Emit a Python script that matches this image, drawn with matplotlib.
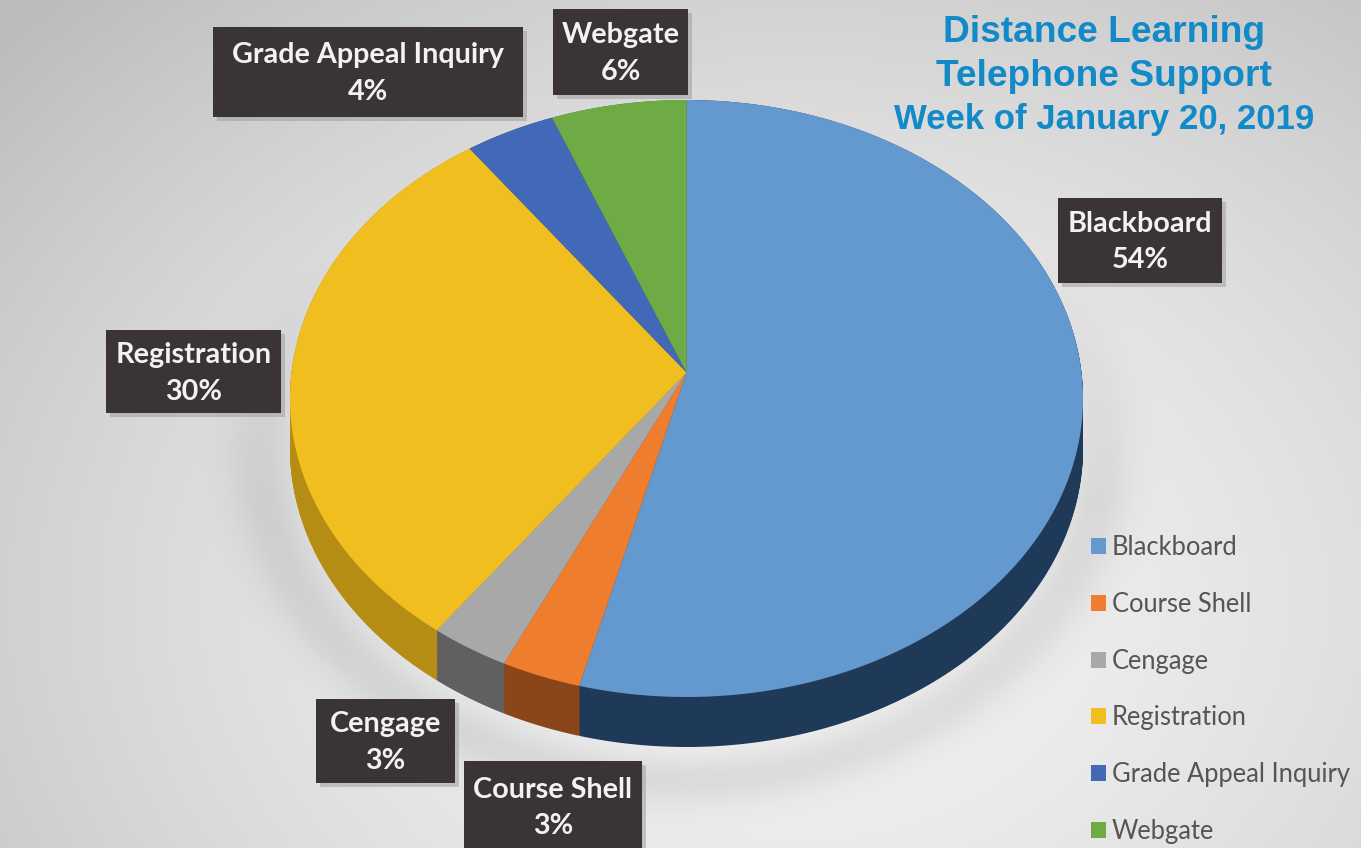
import matplotlib.pyplot as plt
from matplotlib.patches import Rectangle, Polygon
import numpy as np

categories = ['Blackboard', 'Course Shell', 'Cengage', 'Registration',
              'Grade Appeal Inquiry', 'Webgate']
shares = [54, 3, 3, 30, 4, 6]
top_colors = ['#6499CF', '#EE7D2E', '#A8A8A8', '#F0BE1E', '#4169B8', '#6FAB45']
side_colors = ['#1F3A58', '#8A4518', '#606060', '#B68D14', '#2A4680', '#46702A']

title_lines = ['Distance Learning', 'Telephone Support', 'Week of January 20, 2019']
title_sizes = [26.7, 26.7, 25]

W, H = 1361, 848
fig = plt.figure(figsize=(W / 100, H / 100), dpi=100)

# background in pixel coordinates
bg = fig.add_axes([0, 0, 1, 1])
bg.set_xlim(0, W)
bg.set_ylim(H, 0)
bg.axis('off')
yy, xx = np.mgrid[0:H, 0:W]
d = np.sqrt(((xx - 800) / 900.0) ** 2 + ((yy - 600) / 700.0) ** 2)
shade = 0.955 - 0.16 * np.clip(d, 0, 1.2) ** 1.6
# soft shadow around the lower part of the pie
e = np.sqrt(((xx - 680) / 420.0) ** 2 + ((yy - 450) / 330.0) ** 2)
wgt = np.clip((yy - 250) / 250.0, 0, 1)
shade -= 0.07 * np.exp(-((e - 1.0) / 0.08) ** 2) * wgt
bg.imshow(np.dstack([shade, shade * 0.995, shade * 0.995]), extent=[0, W, H, 0],
          aspect='auto', zorder=0)

# pie axes: ellipse covers x 290..1083, top face y 100..697, side depth ~50px
depth = 50
rx_px, ry_px = 396.5, 298.5
px0, py_top = 290, 100
pie_ax = fig.add_axes([px0 / W, (H - (py_top + 2 * ry_px + depth)) / H,
                       2 * rx_px / W, (2 * ry_px + depth) / H])
pie_ax.axis('off')
dy = depth / ry_px

wedges, _ = pie_ax.pie(shares, colors=top_colors, startangle=90, counterclock=False,
                       center=(0, 0), radius=1, wedgeprops=dict(linewidth=0))
pie_ax.set_aspect('auto')
pie_ax.set_xlim(-1, 1)
pie_ax.set_ylim(-1 - dy, 1)

# perspective tilt: keep the rim, move the apex up
a = 0.087
c = np.sqrt(1 - a * a)
shapes = []
for w in wedges:
    t = np.radians(np.linspace(w.theta1, w.theta2, 200))
    x = np.concatenate([[w.center[0]], w.center[0] + w.r * np.cos(t)])
    y = np.concatenate([[w.center[1]], w.center[1] + w.r * np.sin(t)])
    den = 1 + a * y
    shapes.append(np.column_stack([x * c / den, (y + a) / den]))
    w.remove()

for k in np.linspace(dy, 0, 60):
    for pts, col in zip(shapes, side_colors):
        pie_ax.add_patch(Polygon(pts - [0, k], closed=True, color=col, lw=0))
handles = []
for pts, col in zip(shapes, top_colors):
    handles.append(pie_ax.add_patch(Polygon(pts, closed=True, color=col, lw=0)))

# label boxes (pixel coords): x0, y0, x1, y1
boxes = {
    'Blackboard': (1058, 198, 1222, 283),
    'Course Shell': (464, 761, 642, 852),
    'Cengage': (316, 699, 455, 783),
    'Registration': (106, 330, 281, 413),
    'Grade Appeal Inquiry': (213, 27, 523, 117),
    'Webgate': (553, 9, 688, 95),
}
for name, pct in zip(categories, shares):
    x0, y0, x1, y1 = boxes[name]
    bg.add_patch(Rectangle((x0 + 4, y0 + 4), x1 - x0, y1 - y0, color='#9A9A9A',
                           alpha=0.5, zorder=2, lw=0))
    bg.add_patch(Rectangle((x0, y0), x1 - x0, y1 - y0, color='#3A3435', zorder=3, lw=0))
    cx, cy = (x0 + x1) / 2, (y0 + y1) / 2
    bg.text(cx, cy - 17, name, ha='center', va='center', color='#F2F2F2',
            fontsize=20.7, fontweight='bold', family='Lato', zorder=4)
    bg.text(cx, cy + 20, f'{pct}%', ha='center', va='center', color='#F2F2F2',
            fontsize=20.7, fontweight='bold', family='Lato', zorder=4)

# title
for text, ty, fs in zip(title_lines, [32, 77, 119], title_sizes):
    bg.text(1104, ty, text, ha='center', va='center', color='#128AC8',
            fontsize=fs, fontweight='bold', family='Liberation Sans', zorder=4)

# legend
leg = fig.legend(handles, categories, loc='upper left',
                 bbox_to_anchor=(1081 / W, 1 - 525 / H), frameon=False,
                 prop=dict(family='Lato', size=18.4), labelcolor='#555555',
                 handlelength=0.58, handleheight=0.58, handletextpad=0.22,
                 labelspacing=1.24, borderaxespad=0)

fig.savefig('out.png', dpi=100)
